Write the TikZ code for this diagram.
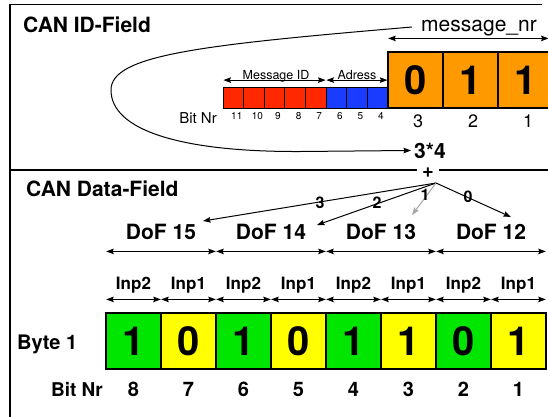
\documentclass[tikz,border=0pt]{standalone}
\usepackage{fontspec}
\setmainfont{TeX Gyre Heros}
\usetikzlibrary{arrows.meta}
\definecolor{bitgreen}{RGB}{0,230,0}
\definecolor{bityellow}{RGB}{255,255,0}
\definecolor{nrorange}{RGB}{255,153,0}
\definecolor{idred}{RGB}{255,40,0}
\definecolor{idblue}{RGB}{25,60,255}
\newcommand{\fs}[1]{\fontsize{#1}{#1}\selectfont}
\begin{document}
\begin{tikzpicture}[x=1pt,y=-1pt,
  frameline/.style={line width=1.3pt},
  span/.style={line width=1pt,
    {Stealth[length=7.5pt,width=5.5pt,inset=1pt]}-{Stealth[length=7.5pt,width=5.5pt,inset=1pt]},
    shorten <=0.8pt, shorten >=0.8pt},
  pointer/.style={line width=1pt, -{Stealth[length=7.5pt,width=5.5pt,inset=1pt]}},
  bitcell/.style={draw, line width=1.2pt, minimum width=55pt, minimum height=56pt,
    inner sep=0pt, font=\fs{40}\bfseries},
  idcell/.style={draw, line width=0.8pt, minimum width=20.6pt, minimum height=21pt, inner sep=0pt},
  title/.style={anchor=base west, inner sep=0pt, font=\fs{21}\bfseries},
  boldlbl/.style={anchor=base, inner sep=0pt, font=\fs{#1}\bfseries},
  plainlbl/.style={anchor=base, inner sep=0pt, font=\fs{#1}},
  fanlbl/.style={inner sep=0pt, font=\fs{16}\bfseries}]

\useasboundingbox (0,0) rectangle (548,416);
\clip (0,0) rectangle (548,416);

% frame and divider
\draw[frameline] (542,4.5) -- (10,4.5) -- (10,420);
\node[font=\fs{20}\bfseries, inner sep=5pt] (plus) at (428,173) {+};
\coordinate (divL) at (10,170);
\coordinate (divR) at (560,170);
\draw[frameline] (divL) -- (divL -| plus.west);
\draw[frameline] (divR -| plus.east) -- (divR);

% titles
\node[title] (idtitle) at (23,32) {CAN ID-Field};
\node[title] (datatitle) at (26,196) {CAN Data-Field};

% ---------- ID field ----------
\foreach \k/\c [count=\i from 0] in {11/idred,10/idred,9/idred,8/idred,7/idred,6/idblue,5/idblue,4/idblue}{
  \node[idcell, fill=\c] (s\k) at (233.3+20.6*\i,97.5) {};
  \node[plainlbl=10] (sn\k) at (236.8+20.6*\i,119) {\k};
}
\node[anchor=base east, inner sep=0pt, font=\fs{15}] (bitnrtop) at (217,123) {Bit Nr};

\foreach \k/\v [count=\i from 0] in {3/0,2/1,1/1}{
  \node[bitcell, fill=nrorange] (o\k) at (415.5+55*\i,80) {\v};
  \node[plainlbl=18] (on\k) at (418+55*\i,127) {\k};
}

\draw[span] ([yshift=6.5pt]s11.north west) -- ([yshift=6.5pt]s7.north east);
\draw[span] ([yshift=6.5pt]s6.north west) -- ([yshift=6.5pt]s4.north east);
\node[plainlbl=12.5] (msgid) at (276,79.5) {Message ID};
\node[plainlbl=12.5] (adress) at (357,79.5) {Adress};

\draw[span, shorten >=5pt] ([yshift=13pt]o3.north west) -- ([yshift=13pt]o1.north east);
\node[plainlbl=21] (msgnr) at (479,31) {message\_nr};

\node[boldlbl=21, inner sep=0pt] (three) at (430,158) {3*4};
\coordinate (loopstart) at (412,27);
\draw[pointer, shorten >=3pt] (loopstart) .. controls (200,45) and (111,55) .. (111,90)
  .. controls (111,130) and (180,152) .. (300,151.5) -- (three.west);

% ---------- data field ----------
\foreach \n/\v/\c [count=\i from 0] in {8/1/bitgreen,7/0/bityellow,6/1/bitgreen,5/0/bityellow,
                                         4/1/bitgreen,3/1/bityellow,2/0/bitgreen,1/1/bityellow}{
  \node[bitcell, fill=\c] (b\n) at (133.5+55*\i,341) {\v};
  \node[boldlbl=20] (bn\n) at (133.5+55*\i,396) {\n};
  \draw[span] ([yshift=13pt]b\n.north west) -- ([yshift=13pt]b\n.north east);
}
\foreach \n/\l [count=\i from 0] in {8/Inp2,7/Inp1,6/Inp2,5/Inp1,4/Inp2,3/Inp1,2/Inp2,1/Inp1}{
  \node[boldlbl=17] (inp\n) at (133.5+55*\i,289) {\l};
}

\draw[span] ([yshift=61pt]b8.north west) -- ([yshift=61pt]b7.north east);
\draw[span] ([yshift=61pt]b6.north west) -- ([yshift=61pt]b5.north east);
\draw[span] ([yshift=61pt]b4.north west) -- ([yshift=61pt]b3.north east);
\draw[span] ([yshift=61pt]b2.north west) -- ([yshift=61pt]b1.north east);
\node[boldlbl=21] (dof15) at (161,239) {DoF 15};
\node[boldlbl=21] (dof14) at (271,239) {DoF 14};
\node[boldlbl=21] (dof13) at (381,239) {DoF 13};
\node[boldlbl=21] (dof12) at (491,239) {DoF 12};

\node[anchor=base west, inner sep=0pt, font=\fs{20}\bfseries] (byte) at (17,349) {Byte 1};
\node[anchor=base east, inner sep=0pt, font=\fs{19}\bfseries] (bitnr) at (103,396) {Bit Nr};

% fan of pointers from the sum to the DoF labels
\coordinate (fan) at (436,183);
\coordinate (t15) at (203,221);
\coordinate (t14) at (317,225);
\coordinate (t13) at (412,215);
\coordinate (t12) at (511,217);
\draw[pointer] (fan) -- (t15);
\draw[pointer] (fan) -- (t14);
\draw[pointer, gray!70] (fan) -- (t13);
\draw[pointer] (fan) -- (t12);
\node[fanlbl] (f3) at (320,203) {3};
\node[fanlbl] (f2) at (377,203) {2};
\node[fanlbl] (f1) at (425,195) {1};
\node[fanlbl] (f0) at (468,197) {0};
\end{tikzpicture}
\end{document}
